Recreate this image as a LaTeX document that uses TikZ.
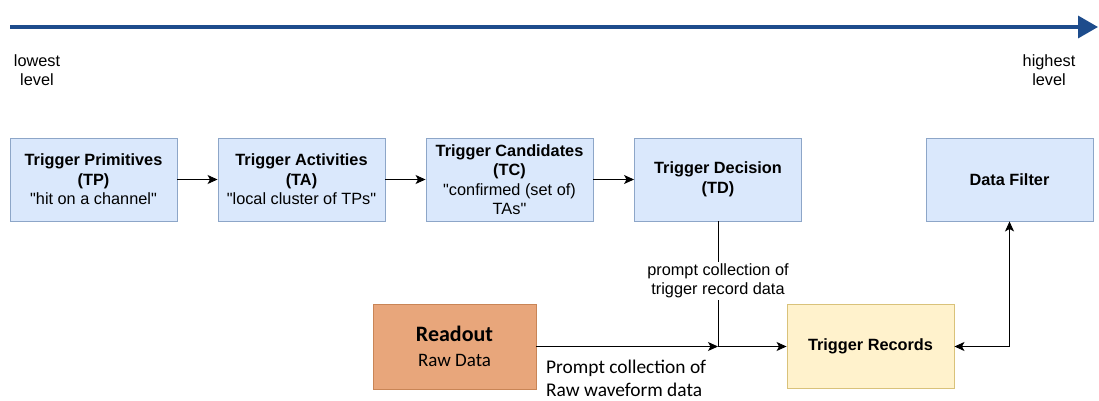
\documentclass[tikz,border=0pt]{standalone}
\usepackage{fontspec}
\setmainfont{Liberation Sans}
\newfontfamily\lsplain{Liberation Sans}
\newfontfamily\carlito{Carlito}
\usetikzlibrary{arrows.meta,positioning}
\definecolor{axisblue}{HTML}{1D4C8C}
\definecolor{bluefill}{HTML}{DAE8FC}
\definecolor{blueline}{HTML}{8DA6C8}
\definecolor{orangefill}{HTML}{E8A67B}
\definecolor{orangeline}{HTML}{C98556}
\definecolor{yellowfill}{HTML}{FFF2CC}
\definecolor{yellowline}{HTML}{D9C27A}
\newcommand{\qq}{{\lsplain\char"22\relax}}
\tikzset{
  bluebox/.style={draw=blueline, fill=bluefill, line width=0.9pt, minimum width=167pt, minimum height=83pt, align=center, inner sep=1pt, font=\fontsize{16.3}{19.5}\selectfont},
  conn/.style={line width=1pt, -{Stealth[length=10pt,width=9pt,inset=2.5pt]}},
  conn2/.style={line width=1pt, {Stealth[length=10pt,width=9pt,inset=2.5pt]}-{Stealth[length=10pt,width=9pt,inset=2.5pt]}},
  smalltxt/.style={align=center, font=\fontsize{16.3}{19}\selectfont, inner sep=1pt}
}
\begin{document}
\begin{tikzpicture}[x=1pt,y=-1pt]
\useasboundingbox (0,0) rectangle (1099,401);
% level axis
\coordinate (a0) at (10,27);
\coordinate (a1) at (1098,27);
\draw[axisblue, line width=3.5pt, -{Triangle[length=20pt,width=22pt]}] (a0) -- (a1);
\node[smalltxt] (low) at (37,70) {lowest\\level};
\node[smalltxt] (high) at (1049,70) {highest\\level};
% boxes
\node[bluebox] (TP) at (93.5,179.5) {\textbf{Trigger Primitives}\\\textbf{(TP)}\\\qq hit on a channel\qq};
\node[bluebox] (TA) at (301.5,179.5) {\textbf{Trigger Activities}\\\textbf{(TA)}\\\qq local cluster of TPs\qq};
\node[bluebox] (TC) at (509.5,179.5) {\textbf{Trigger Candidates}\\\textbf{(TC)}\\\qq confirmed (set of)\\TAs\qq};
\node[bluebox] (TD) at (718,179.5) {\textbf{Trigger Decision}\\\textbf{(TD)}};
\node[bluebox] (DF) at (1009.5,179.5) {\textbf{Data Filter}};
\node[draw=orangeline, fill=orangefill, line width=0.9pt, minimum width=163pt, minimum height=85pt, align=center, inner sep=2pt, font=\carlito\fontsize{22}{25}\selectfont] (RO) at (454.5,346.5) {\bfseries Readout\\\fontsize{19}{25}\selectfont\mdseries Raw Data};
\node[draw=yellowline, fill=yellowfill, line width=0.9pt, minimum width=167pt, minimum height=84pt, align=center, font=\fontsize{16.3}{19.5}\selectfont\bfseries] (TR) at (870.5,346.5) {Trigger Records};
% connectors
\draw[conn] (TP) -- (TA);
\draw[conn] (TA) -- (TC);
\draw[conn] (TC) -- (TD);
\coordinate (j) at (TD.south |- RO.east);
\draw[conn] (RO.east) -- (j);
\draw[conn] (TD.south) |- (TR.west);
\node[smalltxt, fill=white, inner sep=2pt] (lbl1) at (718,281) {prompt collection of\\trigger record data};
\draw[conn2] (TR.east) -| (DF.south);
\node[anchor=north west, align=left, inner sep=0pt, font=\carlito\fontsize{19.4}{22.5}\selectfont] (lbl2) at (546,360) {Prompt collection of\\Raw waveform data};
\end{tikzpicture}
\end{document}
